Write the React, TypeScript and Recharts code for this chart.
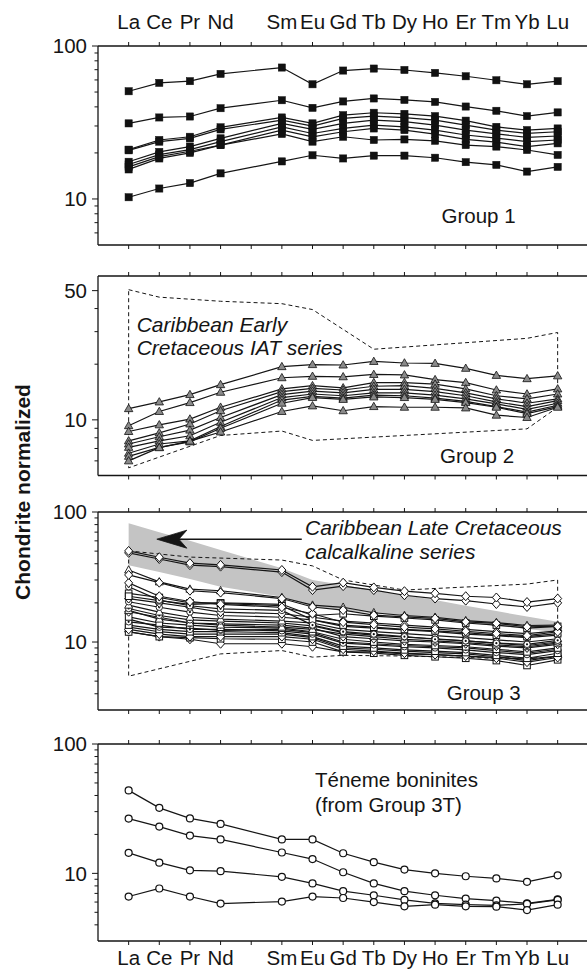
import React from "react";
import { ComposedChart, Line, Area, XAxis, YAxis, ReferenceLine, ReferenceDot } from "recharts";

// ---------- categories ----------
const ELEMENTS = ["La", "Ce", "Pr", "Nd", "Pm", "Sm", "Eu", "Gd", "Tb", "Dy", "Ho", "Er", "Tm", "Yb", "Lu"];
const REE = ["La", "Ce", "Pr", "Nd", "Sm", "Eu", "Gd", "Tb", "Dy", "Ho", "Er", "Tm", "Yb", "Lu"];
const X_TICKS = ELEMENTS.map((_, i) => i);
const X_LABELS = ELEMENTS.map((e) => (e === "Pm" ? "" : e));

// ---------- Group 1 (filled squares) ----------
const G1_S1 = [50.6, 57.4, 58.9, 65.7, 72.3, 56.2, 69.1, 71.2, 69.7, 66.7, 63.4, 59.7, 56.2, 58.9];
const G1_S2 = [31.2, 34.1, 34.6, 39.2, 44.2, 39.4, 43.4, 45.4, 44.4, 43.1, 40.2, 37.7, 34.8, 36.8];
const G1_S3 = [21.0, 24.3, 25.5, 29.4, 34.1, 31.2, 35.3, 36.6, 36.0, 34.8, 32.5, 29.6, 28.2, 28.9];
const G1_S4 = [20.8, 23.7, 24.9, 28.5, 32.8, 29.9, 33.6, 34.8, 34.0, 32.8, 30.4, 28.2, 26.8, 27.5];
const G1_S5 = [17.5, 20.3, 22.0, 24.9, 31.2, 28.5, 31.2, 32.8, 32.0, 30.4, 28.2, 26.6, 25.3, 25.8];
const G1_S6 = [16.8, 19.5, 21.0, 23.7, 29.6, 26.8, 28.9, 30.4, 29.6, 28.2, 26.2, 25.0, 23.7, 24.3];
const G1_S7 = [16.2, 18.9, 20.5, 22.5, 28.2, 25.5, 27.5, 28.9, 28.2, 26.5, 24.5, 23.5, 22.0, 23.1];
const G1_S8 = [15.6, 18.4, 20.0, 22.5, 26.6, 23.7, 25.5, 24.3, 24.5, 24.0, 22.5, 22.0, 20.9, 19.4];
const G1_S9 = [10.26, 11.7, 12.7, 14.7, 17.6, 19.3, 18.4, 19.2, 19.2, 18.6, 17.4, 16.7, 15.1, 16.2];

// ---------- Group 2 (grey triangles) ----------
const G2_S1 = [11.5, 12.5, 13.7, 15.5, 19.4, 19.9, 19.8, 20.7, 20.3, 20.2, 19.0, 17.4, 16.7, 17.3];
const G2_S2 = [9.3, 11.1, 12.4, 14.1, 16.9, 17.2, 17.1, 17.6, 17.5, 16.5, 15.9, 14.5, 13.8, 14.7];
const G2_S3 = [8.65, 9.4, 10.1, 11.7, 14.7, 15.3, 14.9, 15.9, 15.9, 15.6, 14.7, 13.5, 13.0, 13.8];
const G2_S4 = [7.7, 8.5, 9.5, 11.2, 14.2, 14.8, 14.5, 15.2, 15.3, 14.8, 14.0, 13.0, 12.3, 13.0];
const G2_S5 = [7.4, 8.1, 8.8, 10.3, 13.7, 14.3, 14.0, 14.6, 14.6, 14.2, 13.5, 12.5, 11.8, 12.7];
const G2_S6 = [7.1, 7.7, 8.2, 9.7, 13.2, 13.8, 13.5, 14.0, 14.0, 13.6, 13.0, 12.2, 11.4, 12.3];
const G2_S7 = [6.6, 7.4, 7.7, 9.2, 12.8, 13.4, 13.1, 13.6, 13.5, 13.1, 12.6, 11.8, 11.0, 12.0];
const G2_S8 = [6.35, 7.1, 7.6, 9.0, 12.3, 13.2, 12.9, 13.3, 13.2, 12.9, 12.4, 11.7, 10.8, 11.8];
const G2_S9 = [6.0, 7.07, 7.67, 8.6, 11.1, 11.9, 11.2, 11.8, 11.7, 11.7, 11.6, 10.6, 10.3, 11.7];
// dashed field: Caribbean Early Cretaceous IAT series
const G2_ENV_EL = ["La", "Ce", "Nd", "Sm", "Eu", "Tb", "Yb", "Lu", "Lu", "Yb", "Eu", "Sm", "Nd", "La", "La"];
const G2_ENV_V = [50.6, 46.1, 43.8, 42.5, 39.5, 24.1, 27.6, 29.7, 11.7, 8.94, 7.74, 8.7, 8.23, 5.5, 50.6];

// ---------- Group 3 (open symbols) ----------
const G3_D1 = [50.2, 44.9, 40.4, 39.2, 35.8, 26.6, 28.6, 26.3, 24.6, 23.7, 22.5, 22.0, 20.3, 21.6];
const G3_D2 = [48.5, 43.5, 39.0, 38.0, 34.5, 25.1, 26.9, 25.1, 22.9, 21.6, 20.8, 19.6, 18.6, 20.0];
const G3_D3 = [32.8, 28.6, 24.8, 24.0, 21.6, 18.6, 17.6, 16.1, 15.6, 15.2, 14.3, 13.9, 13.1, 13.2];
const G3_T3 = [35.8, 29.0, 25.5, 24.8, 22.0, 19.2, 18.5, 16.8, 16.0, 15.5, 14.6, 14.1, 13.4, 13.5];
const G3_B1 = [23.7, 22.0, 20.0, 20.0, 19.5, 16.0, 16.5, 15.8, 15.3, 14.8, 14.0, 13.5, 12.8, 13.2];
const G3_B2 = [21.6, 20.0, 18.5, 17.0, 16.5, 15.5, 14.5, 14.0, 13.5, 13.0, 12.5, 12.0, 11.6, 12.2];
const G3_B3 = [20.4, 18.5, 17.0, 16.0, 15.5, 14.8, 13.2, 12.8, 12.4, 12.0, 11.5, 11.2, 10.8, 11.3];
const G3_B4 = [19.2, 17.0, 15.5, 15.0, 14.5, 14.0, 12.5, 12.0, 11.6, 11.2, 10.8, 10.4, 10.0, 10.6];
const G3_B5 = [18.1, 16.0, 14.8, 14.5, 14.0, 13.3, 11.8, 11.3, 10.9, 10.6, 10.2, 9.8, 9.4, 10.0];
const G3_B6 = [17.1, 15.5, 14.0, 13.8, 13.5, 12.8, 11.0, 10.6, 10.2, 10.0, 9.7, 9.3, 9.0, 9.6];
const G3_B7 = [15.6, 14.0, 13.5, 13.0, 12.8, 12.0, 10.5, 10.0, 9.6, 9.4, 9.2, 8.8, 8.4, 9.0];
const G3_B8 = [14.3, 13.5, 12.5, 12.5, 12.2, 11.5, 9.8, 9.5, 9.2, 9.0, 8.7, 8.3, 8.0, 8.6];
const G3_B9 = [13.5, 12.5, 12.0, 12.0, 11.8, 11.0, 9.3, 9.0, 8.7, 8.5, 8.3, 7.9, 7.5, 8.2];
const G3_B10 = [12.5, 11.5, 11.0, 11.0, 11.0, 10.5, 8.8, 8.5, 8.2, 8.0, 7.8, 7.5, 7.0, 7.6];
const G3_B11 = [11.95, 11.0, 10.8, 10.6, 10.5, 10.0, 8.4, 8.2, 7.9, 7.7, 7.5, 7.2, 6.6, 7.3];
const G3_B12 = [12.0, 11.0, 10.5, 9.7, 9.7, 9.2, 8.4, 8.4, 8.1, 8.0, 7.8, 7.6, 7.4, 7.8];
const G3_B13 = [26.6, 21.0, 19.0, 18.0, 17.5, 13.5, 12.0, 11.5, 11.0, 10.5, 10.2, 9.8, 9.6, 10.3];
const G3_B14 = [22.5, 20.8, 19.5, 19.8, 19.0, 14.8, 13.5, 13.0, 12.5, 12.2, 11.8, 11.3, 11.0, 11.6];
const G3_B15 = [17.5, 15.0, 14.0, 13.5, 13.0, 12.5, 11.5, 11.0, 10.5, 10.2, 9.9, 9.5, 9.2, 9.8];
const G3_B16 = [15.0, 13.0, 12.8, 12.3, 12.5, 11.8, 10.0, 9.7, 9.4, 9.2, 9.0, 8.6, 8.2, 8.8];
const G3_B17 = [13.0, 12.0, 11.5, 11.5, 11.5, 10.8, 9.0, 8.8, 8.5, 8.3, 8.1, 7.7, 7.2, 7.8];
const G3_B18 = [28.5, 22.5, 20.5, 19.5, 18.5, 16.5, 14.2, 13.6, 13.0, 12.6, 12.1, 11.6, 11.2, 12.0];
// grey field: Caribbean Late Cretaceous calcalkaline series
const G3_BAND_HI = [82, 70, 60, 51, 37, 30, 27.5, 25, 23, 21, 19, 17.3, 15.7, 14.3];
const G3_BAND_LO = [39, 34.5, 30.5, 26.6, 22.3, 18.6, 17.6, 16.6, 15.7, 14.9, 14.1, 13.3, 12.6, 11.9];
// dashed field
const G3_ENV_EL = ["La", "Pr", "Sm", "Eu", "Gd", "Dy", "Ho", "Yb", "Lu", "Lu", "Tm", "Dy", "Gd", "Eu", "Sm", "Nd", "La", "La"];
const G3_ENV_V = [50.2, 45, 42.7, 38.5, 30, 25.1, 25.8, 27.9, 30, 7.6, 7.5, 7.8, 7.9, 7.65, 8.6, 8.1, 5.46, 50.2];
// arrow annotation (element position, value)
const G3_ARROW = { tipX: 0.92, tailX: 5.65, y: 61.8 };

// ---------- Téneme boninites (open circles) ----------
const G4_S1 = [43.8, 32.1, 26.6, 24.1, 18.3, 18.3, 14.3, 12.2, 10.7, 10.0, 9.5, 9.14, 8.6, 9.65];
const G4_S2 = [26.5, 23.0, 19.6, 18.3, 14.5, 12.9, 10.2, 8.36, 7.28, 6.77, 6.38, 6.16, 5.87, 6.3];
const G4_S3 = [14.4, 12.1, 10.55, 10.4, 9.4, 8.36, 7.28, 6.77, 6.23, 5.87, 5.73, 5.66, 5.8, 6.23];
const G4_S4 = [6.62, 7.64, 6.62, 5.84, 6.05, 6.62, 6.45, 6.0, 5.56, 5.73, 5.56, 5.53, 5.2, 5.73];

// ---------- y ticks ----------
const Y_TICKS_A = [6, 7, 8, 9, 10, 20, 30, 40, 50, 60, 70, 80, 90, 100];
const Y_TICKS_B = [6, 7, 8, 9, 10, 20, 30, 40, 50];
const Y_TICKS_C = [4, 5, 6, 7, 8, 9, 10, 20, 30, 40, 50, 60, 70, 80, 90, 100];

// ---------- styling ----------
const INK = "#151515";
const FONT = "'Liberation Sans', Arial, Helvetica, sans-serif";
const CHART_W = 600;
const Y_W = 98;
const M_RIGHT = 11.7;
const AX_H = 46;
const TICK_FS = 20.5;

type Mk = "fsq" | "tri" | "dia" | "osq" | "otri" | "cdot" | "ocirc";

function makeDot(mk: Mk) {
  return (p: any) => {
    const { cx, cy, index } = p;
    const k = `d${index}`;
    if (cx == null || cy == null) return <g key={k} />;
    switch (mk) {
      case "fsq":
        return <rect key={k} x={cx - 3.6} y={cy - 3.6} width={7.2} height={7.2} fill="#111" stroke="#111" strokeWidth={0.5} />;
      case "tri":
        return <polygon key={k} points={`${cx},${cy - 4.3} ${cx - 4.2},${cy + 3} ${cx + 4.2},${cy + 3}`} fill="#8a8a8a" stroke="#111" strokeWidth={0.8} />;
      case "otri":
        return <polygon key={k} points={`${cx},${cy - 4.3} ${cx - 4},${cy + 3} ${cx + 4},${cy + 3}`} fill="#fff" stroke="#111" strokeWidth={0.9} />;
      case "dia":
        return <polygon key={k} points={`${cx},${cy - 4.5} ${cx + 4},${cy} ${cx},${cy + 4.5} ${cx - 4},${cy}`} fill="#fff" stroke="#111" strokeWidth={1} />;
      case "osq":
        return <rect key={k} x={cx - 3.3} y={cy - 3.3} width={6.6} height={6.6} fill="#fff" stroke="#111" strokeWidth={1} />;
      case "cdot":
        return (
          <g key={k}>
            <circle cx={cx} cy={cy} r={3.2} fill="#fff" stroke="#111" strokeWidth={0.9} />
            <circle cx={cx} cy={cy} r={1.1} fill="#111" />
          </g>
        );
      default:
        return <circle key={k} cx={cx} cy={cy} r={3.5} fill="#fff" stroke="#111" strokeWidth={1.2} />;
    }
  };
}

function buildRows(series: number[][], extra?: (i: number) => Record<string, any>) {
  return REE.map((el, i) => {
    const r: Record<string, any> = { x: ELEMENTS.indexOf(el) };
    series.forEach((s, k) => {
      r["s" + k] = s[i];
    });
    if (extra) Object.assign(r, extra(i));
    return r;
  });
}

function envData(els: string[], vals: number[]) {
  return els.map((el, i) => ({ x: ELEMENTS.indexOf(el), y: vals[i] }));
}

function makeYTick(labels: number[], majors: number[]) {
  return (p: any) => {
    const v = p.payload.value;
    const len = majors.includes(v) ? 6 : 3.5;
    return (
      <g key={`yt${v}`}>
        <line x1={p.x - len} x2={p.x} y1={p.y} y2={p.y} stroke={INK} strokeWidth={1} />
        {labels.includes(v) && (
          <text x={p.x - 11} y={p.y} dy="0.36em" textAnchor="end" fontSize={TICK_FS} fill={INK} fontFamily={FONT}>
            {v}
          </text>
        )}
      </g>
    );
  };
}

function seriesLines(series: number[][], marks: Mk[]) {
  return series.map((_, k) => (
    <Line
      key={"s" + k}
      xAxisId="b"
      yAxisId="l"
      type="linear"
      dataKey={"s" + k}
      stroke={INK}
      strokeWidth={1.2}
      dot={makeDot(marks[k % marks.length])}
      activeDot={false}
      isAnimationActive={false}
    />
  ));
}

function Panel(props: {
  plotTop: number;
  plotH: number;
  domain: [number, number];
  yTicks: number[];
  yLabels: number[];
  rows: any[];
  showTop?: boolean;
  showBottom?: boolean;
  children: React.ReactNode;
}) {
  const { plotTop, plotH, domain, yTicks, yLabels, rows, showTop, showBottom, children } = props;
  const majors = [10, 100, ...yLabels];
  return (
    <div style={{ position: "absolute", left: 0, top: plotTop - AX_H }}>
      <ComposedChart width={CHART_W} height={plotH + 2 * AX_H} data={rows} margin={{ top: 0, right: M_RIGHT, bottom: 0, left: 0 }}>
        <XAxis
          xAxisId="t"
          orientation="top"
          type="number"
          dataKey="x"
          domain={[-1, 15]}
          ticks={X_TICKS}
          interval={0}
          allowDataOverflow
          height={AX_H}
          tickSize={4}
          tickMargin={13}
          tickFormatter={(v: number) => (showTop ? X_LABELS[v] : "")}
          tick={{ fontSize: TICK_FS, fill: INK, fontFamily: FONT }}
          axisLine={{ stroke: INK, strokeWidth: 1.3 }}
          tickLine={{ stroke: INK }}
        />
        <XAxis
          xAxisId="b"
          orientation="bottom"
          type="number"
          dataKey="x"
          domain={[-1, 15]}
          ticks={X_TICKS}
          interval={0}
          allowDataOverflow
          height={AX_H}
          tickSize={4}
          tickMargin={5}
          tickFormatter={(v: number) => (showBottom ? X_LABELS[v] : "")}
          tick={{ fontSize: TICK_FS, fill: INK, fontFamily: FONT }}
          axisLine={{ stroke: INK, strokeWidth: 1.3 }}
          tickLine={{ stroke: INK }}
        />
        <YAxis
          yAxisId="l"
          type="number"
          scale="log"
          domain={domain}
          allowDataOverflow
          ticks={yTicks}
          interval={0}
          width={Y_W}
          tickSize={0}
          tickMargin={0}
          tickLine={false}
          tick={makeYTick(yLabels, majors)}
          axisLine={{ stroke: INK, strokeWidth: 1.3 }}
        />
        {children}
      </ComposedChart>
    </div>
  );
}

const G1 = [G1_S1, G1_S2, G1_S3, G1_S4, G1_S5, G1_S6, G1_S7, G1_S8, G1_S9];
const G2 = [G2_S1, G2_S2, G2_S3, G2_S4, G2_S5, G2_S6, G2_S7, G2_S8, G2_S9];
const G3 = [
  G3_B12, G3_B11, G3_B17, G3_B10, G3_B9, G3_B16, G3_B8, G3_B7, G3_B6, G3_B15, G3_B5, G3_B4, G3_B3, G3_B2,
  G3_B1, G3_B14, G3_B13, G3_B18, G3_T3, G3_D3, G3_D2, G3_D1,
];
const G3_MARKS: Mk[] = [
  "dia", "osq", "osq", "dia", "osq", "cdot", "cdot", "osq", "dia", "otri", "cdot", "otri", "cdot", "dia",
  "osq", "osq", "cdot", "dia", "otri", "dia", "dia", "dia",
];
const G4 = [G4_S1, G4_S2, G4_S3, G4_S4];

export default function App() {
  const rows1 = buildRows(G1);
  const rows2 = buildRows(G2);
  const rows3 = buildRows(G3, (i) => ({ band: [G3_BAND_LO[i], G3_BAND_HI[i]] }));
  const rows4 = buildRows(G4);
  const env2 = envData(G2_ENV_EL, G2_ENV_V);
  const env3 = envData(G3_ENV_EL, G3_ENV_V);

  const textStyle = { fontFamily: FONT, fill: INK } as const;

  return (
    <div style={{ position: "absolute", left: 0, top: 0, width: 587, height: 974, overflow: "hidden", background: "#fff", fontFamily: FONT }}>
      <Panel plotTop={46} plotH={199} domain={[5, 100]} yTicks={Y_TICKS_A} yLabels={[10, 100]} rows={rows1} showTop>
        {seriesLines(G1, ["fsq"])}
      </Panel>

      <Panel plotTop={276} plotH={199.5} domain={[5, 60]} yTicks={Y_TICKS_B} yLabels={[10, 50]} rows={rows2}>
        <Line
          xAxisId="b"
          yAxisId="l"
          data={env2}
          dataKey="y"
          type="linear"
          stroke={INK}
          strokeWidth={1}
          strokeDasharray="4 3"
          dot={false}
          activeDot={false}
          isAnimationActive={false}
        />
        {seriesLines(G2, ["tri"])}
      </Panel>

      <Panel plotTop={512} plotH={198} domain={[3, 100]} yTicks={Y_TICKS_C} yLabels={[10, 100]} rows={rows3}>
        <Area
          xAxisId="b"
          yAxisId="l"
          dataKey="band"
          type="linear"
          stroke="none"
          fill="#c4c4c4"
          fillOpacity={1}
          dot={false}
          activeDot={false}
          isAnimationActive={false}
        />
        <Line
          xAxisId="b"
          yAxisId="l"
          data={env3}
          dataKey="y"
          type="linear"
          stroke={INK}
          strokeWidth={1}
          strokeDasharray="4 3"
          dot={false}
          activeDot={false}
          isAnimationActive={false}
        />
        {seriesLines(G3, G3_MARKS)}
        <ReferenceLine
          xAxisId="b"
          yAxisId="l"
          segment={[
            { x: G3_ARROW.tipX + 0.7, y: G3_ARROW.y },
            { x: G3_ARROW.tailX, y: G3_ARROW.y },
          ]}
          stroke={INK}
          strokeWidth={1.6}
        />
        <ReferenceDot
          xAxisId="b"
          yAxisId="l"
          x={G3_ARROW.tipX}
          y={G3_ARROW.y}
          shape={(p: any) => (
            <path
              d={`M${p.cx},${p.cy} L${p.cx + 30},${p.cy - 9} L${p.cx + 22},${p.cy} L${p.cx + 30},${p.cy + 9} Z`}
              fill={INK}
              stroke={INK}
              strokeWidth={0.8}
            />
          )}
        />
      </Panel>

      <Panel plotTop={744} plotH={197} domain={[3, 100]} yTicks={Y_TICKS_C} yLabels={[10, 100]} rows={rows4} showBottom>
        {seriesLines(G4, ["ocirc"])}
      </Panel>

      <svg width={587} height={974} style={{ position: "absolute", left: 0, top: 0, pointerEvents: "none" }}>
        <text x={441.5} y={222.7} fontSize={20.5} {...textStyle}>Group 1</text>
        <text x={136.7} y={331.5} fontSize={21} fontStyle="italic" {...textStyle}>Caribbean Early</text>
        <text x={136.7} y={355} fontSize={21} fontStyle="italic" {...textStyle}>Cretaceous IAT series</text>
        <text x={440} y={463.3} fontSize={20.5} {...textStyle}>Group 2</text>
        <text x={305} y={535} fontSize={21} fontStyle="italic" {...textStyle}>Caribbean Late Cretaceous</text>
        <text x={305} y={559} fontSize={21} fontStyle="italic" {...textStyle}>calcalkaline series</text>
        <text x={446.7} y={700} fontSize={20.5} {...textStyle}>Group 3</text>
        <text x={315} y={786.7} fontSize={20.5} {...textStyle}>Téneme boninites</text>
        <text x={315} y={811.7} fontSize={20.5} {...textStyle}>(from Group 3T)</text>
        <text
          x={0}
          y={0}
          transform="translate(30,492) rotate(-90)"
          textAnchor="middle"
          fontSize={21}
          fontWeight="bold"
          {...textStyle}
        >
          Chondrite normalized
        </text>
      </svg>
    </div>
  );
}
